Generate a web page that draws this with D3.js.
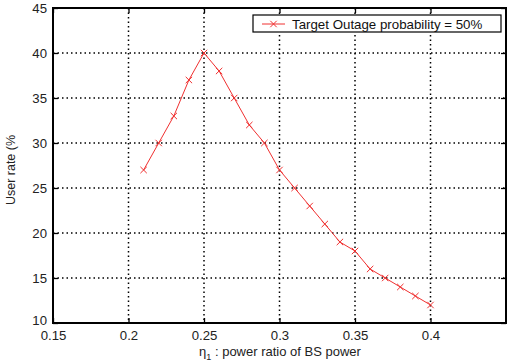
<!DOCTYPE html>
<html><head><meta charset="utf-8">
<script src="https://cdn.jsdelivr.net/npm/d3@7"></script>
<style>body{margin:0;background:#fff}svg{display:block}text{font-family:"Liberation Sans",Arial,sans-serif}</style>
</head><body><svg id="c" width="507" height="363"></svg>
<script>
const xValues = [0.21,0.22,0.23,0.24,0.25,0.26,0.27,0.28,0.29,0.30,0.31,0.32,0.33,0.34,0.35,0.36,0.37,0.38,0.39,0.40];
const userRate = [27,30,33,37,40,38,35,32,30,27,25,23,21,19,18,16,15,14,13,12];
const xTicks = [0.15,0.2,0.25,0.3,0.35,0.4,0.45];
const xTickLabels = ["0.15","0.2","0.25","0.3","0.35","0.4",""];
const yTicks = [10,15,20,25,30,35,40,45];
const legendLabel = "Target Outage probability = 50%";

const svg = d3.select("#c");
const L=53,R=506,T=8,B=323;
const x = d3.scaleLinear().domain([0.15,0.45]).range([L,R]);
const y = d3.scaleLinear().domain([10,45]).range([B,T]);
const g = svg.append("g");

// grid
g.selectAll(".gx").data(xTicks.slice(1,-1)).enter().append("line")
 .attr("x1",d=>x(d)).attr("x2",d=>x(d)).attr("y1",T).attr("y2",B)
 .attr("stroke","#000").attr("stroke-width",1.5).attr("stroke-dasharray","1.5,3");
g.selectAll(".gy").data(yTicks.slice(1,-1)).enter().append("line")
 .attr("y1",d=>y(d)).attr("y2",d=>y(d)).attr("x1",L).attr("x2",R)
 .attr("stroke","#000").attr("stroke-width",1.5).attr("stroke-dasharray","1.5,3");

// axes
const xa = d3.axisBottom(x).tickValues(xTicks).tickFormat((d,i)=>xTickLabels[i]).tickSizeInner(-5).tickSizeOuter(0).tickPadding(9);
const ya = d3.axisLeft(y).tickValues(yTicks).tickFormat(d3.format("d")).tickSizeInner(-5).tickSizeOuter(0).tickPadding(6);
const gx = svg.append("g").attr("transform",`translate(0,${B})`).call(xa);
const gy = svg.append("g").attr("transform",`translate(${L},0)`).call(ya);
const gxt = svg.append("g").attr("transform",`translate(0,${T})`).call(d3.axisTop(x).tickValues(xTicks).tickFormat("").tickSizeInner(-5).tickSizeOuter(0));
const gyr = svg.append("g").attr("transform",`translate(${R},0)`).call(d3.axisRight(y).tickValues(yTicks).tickFormat("").tickSizeInner(-5).tickSizeOuter(0));
[gx,gy,gxt,gyr].forEach(a=>{a.select(".domain").remove();a.selectAll("line").attr("stroke","#000").attr("stroke-width",1.3);a.selectAll("text").attr("font-size",13.2).attr("fill","#222").attr("font-family","Liberation Sans, Arial, sans-serif");});
gx.selectAll("text").attr("dy","0.6em");
gy.selectAll(".tick").filter(d=>d===10).select("text").attr("dy","0.1em");

svg.append("rect").attr("x",L).attr("y",T).attr("width",R-L).attr("height",B-T)
 .attr("fill","none").attr("stroke","#000").attr("stroke-width",2);

// line
const pts = xValues.map((v,i)=>[v,userRate[i]]);
svg.append("path").datum(pts).attr("fill","none").attr("stroke","#f03030").attr("stroke-width",1)
 .attr("d",d3.line().x(d=>x(d[0])).y(d=>y(d[1])));
const s=3.2;
const mk = svg.append("g").attr("stroke","#f03030").attr("stroke-width",1);
pts.forEach(d=>{const cx=x(d[0]),cy=y(d[1]);
 mk.append("path").attr("d",`M${cx-s},${cy-s}L${cx+s},${cy+s}M${cx-s},${cy+s}L${cx+s},${cy-s}`);});

// legend
const lg = svg.append("g");
lg.append("rect").attr("x",253).attr("y",15).attr("width",248).attr("height",17).attr("fill","#fff").attr("stroke","#000").attr("stroke-width",1.2);
lg.append("line").attr("x1",262).attr("x2",285).attr("y1",24).attr("y2",24).attr("stroke","#f03030");
lg.append("path").attr("d",`M${273.5-s},${24-s}L${273.5+s},${24+s}M${273.5-s},${24+s}L${273.5+s},${24-s}`).attr("stroke","#f03030");
lg.append("text").attr("x",292).attr("y",28.7).attr("font-size",13.3).attr("fill","#111").text(legendLabel);

// axis labels
const xl = svg.append("text").attr("x",280).attr("y",356).attr("text-anchor","middle").attr("font-size",13).attr("fill","#222");
xl.append("tspan").text("η");
xl.append("tspan").attr("font-size",9).attr("dy",4).text("1");
xl.append("tspan").attr("dy",-4).text(" : power ratio of BS power");
svg.append("text").attr("transform","translate(15,170) rotate(-90)").attr("text-anchor","middle").attr("font-size",12.5).attr("fill","#222").text("User rate (%");
</script></body></html>
